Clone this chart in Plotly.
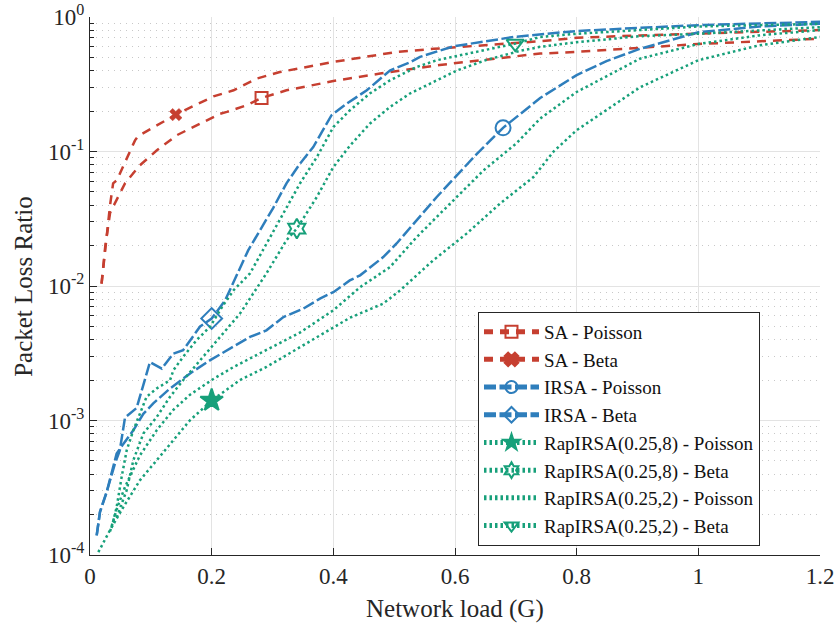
import plotly.graph_objects as go

# ---------------- data ----------------
sa_beta_x = [0.019, 0.025, 0.033, 0.038, 0.044, 0.074, 0.079, 0.141, 0.203, 0.236, 0.274, 0.312,
             0.40, 0.504, 0.565, 0.74, 0.80, 0.904, 1.0, 1.2]
sa_beta_y = [0.0104, 0.0195, 0.04, 0.058, 0.061, 0.121, 0.13, 0.188, 0.257, 0.285, 0.348, 0.39,
             0.463, 0.55, 0.58, 0.66, 0.70, 0.73, 0.75, 0.80]

sa_pois_x = [0.019, 0.025, 0.033, 0.0575, 0.082, 0.11, 0.1425, 0.175, 0.214, 0.225, 0.258, 0.282,
             0.323, 0.40, 0.477, 0.575, 0.669, 0.74, 0.80, 0.904, 1.0, 1.2]
sa_pois_y = [0.0104, 0.0195, 0.035, 0.058, 0.079, 0.102, 0.132, 0.157, 0.191, 0.197, 0.221, 0.25,
             0.285, 0.334, 0.38, 0.44, 0.49, 0.535, 0.55, 0.59, 0.63, 0.69]

irsa_beta_x = [0.011, 0.0164, 0.0274, 0.041, 0.049, 0.0575, 0.0767, 0.0986, 0.118, 0.137, 0.153,
               0.181, 0.2, 0.222, 0.26, 0.301, 0.323, 0.345, 0.367, 0.397, 0.422, 0.455, 0.493,
               0.526, 0.5425, 0.597, 0.696, 0.74, 0.80, 0.904, 1.0, 1.2]
irsa_beta_y = [1.40e-4, 2.09e-4, 2.94e-4, 4.78e-4, 6.0e-4, 1.05e-3, 1.24e-3, 2.72e-3, 2.43e-3,
               3.14e-3, 3.33e-3, 5.0e-3, 5.73e-3, 7.8e-3, 0.0184, 0.038, 0.058, 0.081, 0.108,
               0.186, 0.227, 0.285, 0.40, 0.46, 0.505, 0.605, 0.71, 0.74, 0.787, 0.83, 0.87, 0.92]

irsa_pois_x = [0.011, 0.0164, 0.0274, 0.0438, 0.0548, 0.0712, 0.0877, 0.104, 0.1315, 0.164, 0.197,
               0.236, 0.263, 0.29, 0.318, 0.351, 0.378, 0.40, 0.427, 0.444, 0.482, 0.504, 0.537,
               0.570, 0.603, 0.636, 0.679, 0.701, 0.74, 0.80, 0.849, 0.904, 1.0, 1.1, 1.2]
irsa_pois_y = [1.4e-4, 2.09e-4, 2.94e-4, 5.67e-4, 6.7e-4, 8.45e-4, 1.12e-3, 1.34e-3, 1.73e-3,
               2.23e-3, 2.8e-3, 3.52e-3, 4.18e-3, 4.68e-3, 5.88e-3, 6.8e-3, 8.06e-3, 9.0e-3,
               0.011, 0.012, 0.0164, 0.0207, 0.0308, 0.0459, 0.0665, 0.096, 0.15, 0.18, 0.25,
               0.37, 0.47, 0.58, 0.77, 0.85, 0.89]

rap8_pois_x = [0.0137, 0.0329, 0.0548, 0.082, 0.1096, 0.137, 0.164, 0.2, 0.2466, 0.29, 0.345,
               0.40, 0.427, 0.482, 0.51, 0.564, 0.619, 0.674, 0.729, 0.762, 0.80, 0.904, 1.0,
               1.1, 1.2]
rap8_pois_y = [1.05e-4, 1.53e-4, 2.27e-4, 3.59e-4, 5.06e-4, 7.13e-4, 1.0e-3, 1.41e-3, 2.0e-3,
               2.5e-3, 3.52e-3, 4.96e-3, 5.8e-3, 7.4e-3, 9.3e-3, 0.0155, 0.0245, 0.041, 0.0646,
               0.10, 0.144, 0.30, 0.477, 0.616, 0.71]

rap8_beta_x = [0.0438, 0.0603, 0.0712, 0.0877, 0.1096, 0.1315, 0.153, 0.181, 0.208, 0.2466, 0.29,
               0.323, 0.34, 0.373, 0.40, 0.427, 0.46, 0.493, 0.526, 0.57, 0.603, 0.652, 0.707,
               0.74, 0.80, 0.904, 1.0, 1.2]
rap8_beta_y = [1.9e-4, 3.03e-4, 5.06e-4, 8.0e-4, 1.06e-3, 1.5e-3, 1.99e-3, 2.8e-3, 3.95e-3,
               6.24e-3, 0.0124, 0.0219, 0.0267, 0.046, 0.0767, 0.11, 0.161, 0.214, 0.27, 0.338,
               0.40, 0.48, 0.56, 0.60, 0.65, 0.72, 0.75, 0.84]

rap2_pois_x = [0.033, 0.044, 0.0575, 0.082, 0.11, 0.137, 0.164, 0.2, 0.236, 0.29, 0.345, 0.40,
               0.444, 0.493, 0.537, 0.592, 0.647, 0.701, 0.74, 0.80, 0.904, 1.0, 1.1, 1.2]
rap2_pois_y = [1.5e-4, 2.2e-4, 3.2e-4, 5.5e-4, 8.5e-4, 1.2e-3, 1.55e-3, 2.0e-3, 2.5e-3, 3.33e-3,
               4.5e-3, 6.6e-3, 9.8e-3, 0.0138, 0.0231, 0.041, 0.0725, 0.115, 0.176, 0.277, 0.49,
               0.63, 0.73, 0.80]

rap2_beta_x = [0.0356, 0.0438, 0.052, 0.0603, 0.0712, 0.093, 0.1096, 0.1315, 0.137, 0.153, 0.175,
               0.197, 0.219, 0.236, 0.263, 0.29, 0.318, 0.345, 0.373, 0.40, 0.427, 0.46, 0.493,
               0.537, 0.57, 0.699, 0.74, 0.80, 0.904, 1.0, 1.2]
rap2_beta_y = [1.6e-4, 2.27e-4, 3.8e-4, 6.0e-4, 8.45e-4, 1.5e-3, 1.73e-3, 1.99e-3, 2.36e-3,
               2.97e-3, 3.95e-3, 4.96e-3, 7.2e-3, 9.3e-3, 0.0124, 0.0205, 0.0345, 0.0577, 0.091,
               0.152, 0.202, 0.27, 0.338, 0.425, 0.477, 0.634, 0.71, 0.75, 0.80, 0.85, 0.89]

series_names = ["SA - Poisson", "SA - Beta", "IRSA - Poisson", "IRSA - Beta",
                "RapIRSA(0.25,8) - Poisson", "RapIRSA(0.25,8) - Beta",
                "RapIRSA(0.25,2) - Poisson", "RapIRSA(0.25,2) - Beta"]

x_ticks = [0, 0.2, 0.4, 0.6, 0.8, 1.0, 1.2]
x_tick_labels = ["0", "0.2", "0.4", "0.6", "0.8", "1", "1.2"]
y_ticks = [1e-4, 1e-3, 1e-2, 1e-1, 1]
y_tick_labels = ["10<sup>-4</sup>", "10<sup>-3</sup>", "10<sup>-2</sup>", "10<sup>-1</sup>", "10<sup>0</sup>"]
x_title = "Network load (G)"
y_title = "Packet Loss Ratio"

# ---------------- styling ----------------
RED = "#c63f30"
BLUE = "#2e7ebc"
GREEN = "#17a07a"
SA_DASH = "9px,7px"
IRSA_DASH = "12px,3.5px"
RAP_DASH = "2.5px,3px"
LW = 2.5

series = [
    (sa_pois_x, sa_pois_y, RED, SA_DASH, "square-open", 12, 11),
    (sa_beta_x, sa_beta_y, RED, SA_DASH, "x", 11, 7),
    (irsa_pois_x, irsa_pois_y, BLUE, IRSA_DASH, "circle-open", 15, 26),
    (irsa_beta_x, irsa_beta_y, BLUE, IRSA_DASH, "diamond-open", 16, 12),
    (rap8_pois_x, rap8_pois_y, GREEN, RAP_DASH, "star", 17, 7),
    (rap8_beta_x, rap8_beta_y, GREEN, RAP_DASH, "hexagram-open", 15, 12),
    (rap2_pois_x, rap2_pois_y, GREEN, RAP_DASH, None, 0, None),
    (rap2_beta_x, rap2_beta_y, GREEN, RAP_DASH, "triangle-down-open", 15, 25),
]

fig = go.Figure()
for name, (xs, ys, col, dash, sym, msize, midx) in zip(series_names, series):
    line = dict(color=col, width=LW, dash=dash)
    if sym is None:
        fig.add_trace(go.Scatter(x=xs, y=ys, mode="lines", name=name, line=line))
        continue
    fig.add_trace(go.Scatter(x=xs, y=ys, mode="lines", line=line, showlegend=False,
                             hoverinfo="skip"))
    mk = dict(symbol=sym, size=msize, color=col, line=dict(color=col, width=2))
    if sym == "x":
        mk["line"] = dict(color=col, width=0.5)
    fig.add_trace(go.Scatter(x=[xs[midx]], y=[ys[midx]], mode="lines+markers", name=name,
                             line=line, marker=mk))

FONT = "Liberation Serif"
LFONT = "Times New Roman"
TXT = "#262626"
fig.update_layout(
    width=835, height=628,
    margin=dict(l=90, r=15, t=17, b=73),
    paper_bgcolor="white", plot_bgcolor="white",
    font=dict(family=FONT, size=23, color=TXT),
    showlegend=True,
    legend=dict(x=0.5315, y=0.452, xanchor="left", yanchor="top",
                bgcolor="white", bordercolor="#262626", borderwidth=1,
                font=dict(family=LFONT, size=19, color="#111111"),
                itemsizing="constant", itemwidth=55, tracegroupgap=0),
    annotations=[
        dict(text=x_title, xref="paper", yref="paper", x=0.5, y=-0.10,
             xanchor="center", yanchor="middle", showarrow=False,
             font=dict(family=FONT, size=25, color=TXT)),
        dict(text=y_title, xref="paper", yref="paper", x=-0.092, y=0.50,
             xanchor="center", yanchor="middle", showarrow=False, textangle=-90,
             font=dict(family=FONT, size=25, color=TXT)),
    ],
)
fig.update_xaxes(
    range=[0, 1.2], tickmode="array", tickvals=x_ticks, ticktext=x_tick_labels,
    automargin=False, ticklabeloverflow="allow",
    showline=True, linecolor=TXT, linewidth=1.2, mirror=False,
    ticks="inside", ticklen=7, tickcolor=TXT,
    showgrid=True, gridcolor="#e3e3e3", gridwidth=1, zeroline=False,
    tickfont=dict(family=FONT, size=23, color=TXT),
)
fig.update_yaxes(
    type="log", range=[-4, 0], tickmode="array", tickvals=y_ticks, ticktext=y_tick_labels,
    automargin=False, ticklabeloverflow="allow",
    showline=True, linecolor=TXT, linewidth=1.2, mirror=False,
    ticks="inside", ticklen=7, tickcolor=TXT,
    showgrid=True, gridcolor="#e3e3e3", gridwidth=1, zeroline=False,
    minor=dict(ticks="inside", ticklen=4, tickcolor=TXT, dtick="D1",
               showgrid=True, gridcolor="#c8c8c8", griddash="1px,5px", gridwidth=1),
    tickfont=dict(family=FONT, size=23, color=TXT),
)

# remove the browser's default 8px body margin so the figure fills the window exactly
fig.write_html("out.html",
               config={"displayModeBar": False},
               post_script="document.body.style.margin='0';document.body.style.overflow='hidden';")
